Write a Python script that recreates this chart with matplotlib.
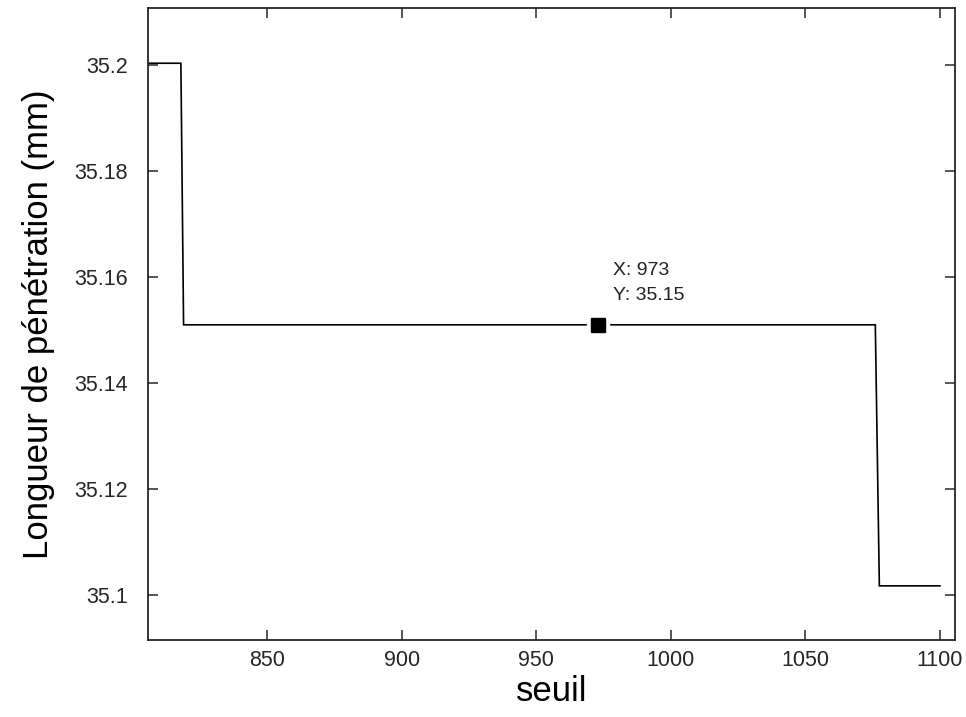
import numpy as np
import matplotlib
matplotlib.use("Agg")
import matplotlib.pyplot as plt

# === DATA ===
seuil = [806, 818, 819, 1076, 1077.5, 1100]
longueur = [35.2003, 35.2003, 35.151, 35.151, 35.1018, 35.1018]

tip_x = 973
tip_y = 35.151
tip_label = "X: 973\nY: 35.15"

x_ticks = [850, 900, 950, 1000, 1050, 1100]
y_ticks = [35.1, 35.12, 35.14, 35.16, 35.18, 35.2]
y_tick_labels = ["35.1", "35.12", "35.14", "35.16", "35.18", "35.2"]

# === STYLE ===
plt.rcParams['font.family'] = ['Liberation Sans', 'DejaVu Sans']

fig = plt.figure(figsize=(9.66, 7.17), dpi=100)
ax = fig.add_axes([0.1527, 0.1067, 0.8359, 0.8828])

ax.plot(seuil, longueur, color='black', linewidth=1.2, solid_joinstyle='miter')

# datatip marker: white halo then black square
ax.plot([tip_x], [tip_y], marker='s', markersize=16, color='white', linestyle='none')
ax.plot([tip_x], [tip_y], marker='s', markersize=10.5, color='black', linestyle='none')
ax.annotate(tip_label, xy=(tip_x, tip_y), xytext=(11, 15), textcoords='offset points',
            fontsize=14, color='#222222', ha='left', va='bottom', linespacing=1.6)

ax.set_xlim(805.6, 1105.6)
ax.set_ylim(35.0915, 35.2108)
ax.set_xticks(x_ticks)
ax.set_yticks(y_ticks)
ax.set_yticklabels(y_tick_labels)

ax.tick_params(axis='both', direction='in', length=7, width=1.1, colors='#262626',
               labelsize=15.5, top=True, right=True)
ax.tick_params(axis='y', pad=14)
ax.tick_params(axis='x', pad=7)
for sp in ax.spines.values():
    sp.set_color('#262626')
    sp.set_linewidth(1.3)

ax.set_xlabel("seuil", fontsize=25, labelpad=3)
ax.set_ylabel("Longueur de pénétration (mm)", fontsize=25, labelpad=14)

fig.savefig("out.png", dpi=100)
